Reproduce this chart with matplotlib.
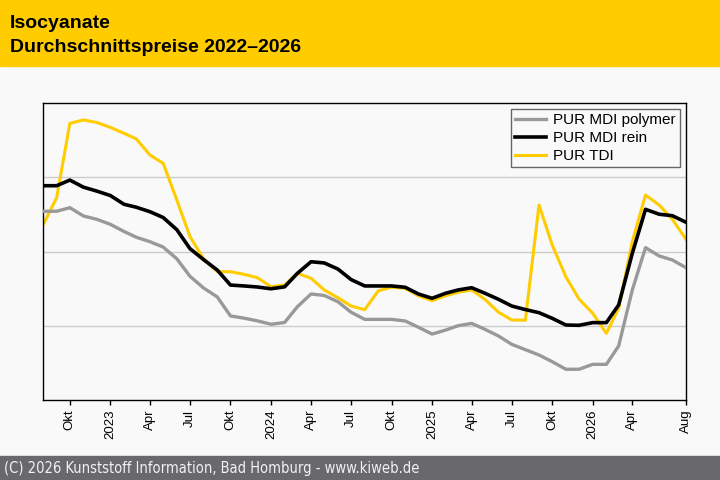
import matplotlib.pyplot as plt
import pandas as pd

# monthly values Aug 2022 .. Aug 2026 (scale, no y labels shown)
months = pd.date_range('2022-08-01', '2026-08-01', freq='MS')

mdi_polymer = [2271, 2271, 2295, 2239, 2217, 2183, 2135, 2096, 2066, 2030,
               1951, 1833, 1754, 1694, 1566, 1551, 1533, 1510, 1522, 1628,
               1714, 1704, 1662, 1591, 1543, 1543, 1543, 1532, 1490, 1444,
               1471, 1500, 1516, 1476, 1431, 1375, 1339, 1303, 1258, 1207,
               1207, 1240, 1240, 1364, 1741, 2026, 1970, 1943, 1891]

mdi_rein = [2443, 2443, 2481, 2433, 2407, 2377, 2318, 2298, 2268, 2229,
            2147, 2019, 1945, 1875, 1774, 1768, 1761, 1749, 1762, 1853,
            1931, 1923, 1882, 1811, 1768, 1768, 1768, 1759, 1714, 1685,
            1719, 1741, 1756, 1719, 1678, 1633, 1609, 1588, 1550, 1505,
            1503, 1521, 1521, 1640, 1988, 2284, 2251, 2241, 2197]

tdi = [2178, 2362, 2863, 2886, 2869, 2836, 2796, 2758, 2650, 2594,
       2347, 2100, 1950, 1864, 1864, 1846, 1824, 1763, 1774, 1853,
       1820, 1741, 1689, 1633, 1608, 1736, 1759, 1752, 1702, 1669,
       1702, 1725, 1741, 1678, 1591, 1539, 1537, 2313, 2044, 1830,
       1680, 1584, 1449, 1618, 2066, 2380, 2313, 2217, 2082]

tick_dates = ['2022-10-01', '2023-01-01', '2023-04-01', '2023-07-01', '2023-10-01',
              '2024-01-01', '2024-04-01', '2024-07-01', '2024-10-01', '2025-01-01',
              '2025-04-01', '2025-07-01', '2025-10-01', '2026-01-01', '2026-04-01',
              '2026-08-01']
tick_labels = ['Okt', '2023', 'Apr', 'Jul', 'Okt', '2024', 'Apr', 'Jul', 'Okt',
               '2025', 'Apr', 'Jul', 'Okt', '2026', 'Apr', 'Aug']

plt.rcParams['font.family'] = ['Liberation Sans', 'DejaVu Sans']

bg = '#f9f9f9'
fig = plt.figure(figsize=(7.2, 4.8), dpi=100, facecolor=bg)

# header and footer bands
fig.patches.append(plt.Rectangle((0, 1 - 66 / 480), 1, 66 / 480, transform=fig.transFigure,
                                 color='#ffcc00', zorder=0))
fig.patches.append(plt.Rectangle((0, 0), 1, 24 / 480, transform=fig.transFigure,
                                 color='#68686d', zorder=0))
fig.text(10 / 720, 1 - 28.5 / 480, 'Isocyanate', fontsize=14, fontweight='bold',
         va='baseline', ha='left', color='black')
fig.text(10 / 720, 1 - 52 / 480, 'Durchschnittspreise 2022–2026', fontsize=14,
         fontweight='bold', va='baseline', ha='left', color='black')
fig.text(4 / 720, 12 / 480, '(C) 2026 Kunststoff Information, Bad Homburg - www.kiweb.de',
         fontsize=10.5, va='center', ha='left', color='#f2f2f2',
         family=['DejaVu Sans'], fontstretch='condensed')

ax = fig.add_axes([43 / 720, 80 / 480, 643 / 720, 297 / 480])
ax.set_facecolor(bg)

ax.plot(months, mdi_polymer, color='#999999', lw=2.4, label='PUR MDI polymer', zorder=3)
ax.plot(months, mdi_rein, color='black', lw=2.6, label='PUR MDI rein', zorder=4)
ax.plot(months, tdi, color='#ffcc00', lw=2.2, label='PUR TDI', zorder=2)

ax.set_xlim(months[0], months[-1])
ax.set_ylim(1000, 3000)
ax.set_yticks([1500, 2000, 2500])
ax.yaxis.grid(True, color='#cccccc', lw=1)
ax.set_axisbelow(True)
ax.tick_params(axis='y', left=False, labelleft=False)

ax.set_xticks(pd.to_datetime(tick_dates))
ax.set_xticklabels(tick_labels, rotation=90, fontsize=9.5)
ax.tick_params(axis='x', length=3.6, width=1, color='black', pad=3.5)

for s in ax.spines.values():
    s.set_color('black')
    s.set_linewidth(1)

leg = ax.legend(loc='upper right', fontsize=11, frameon=True, fancybox=False,
                edgecolor='#666666', facecolor=bg, framealpha=1,
                handlelength=2.0, handletextpad=0.5, labelspacing=0.27,
                borderpad=0.25, borderaxespad=0.42)
leg.get_frame().set_linewidth(1)

fig.savefig('out.png', dpi=100, facecolor=bg)
